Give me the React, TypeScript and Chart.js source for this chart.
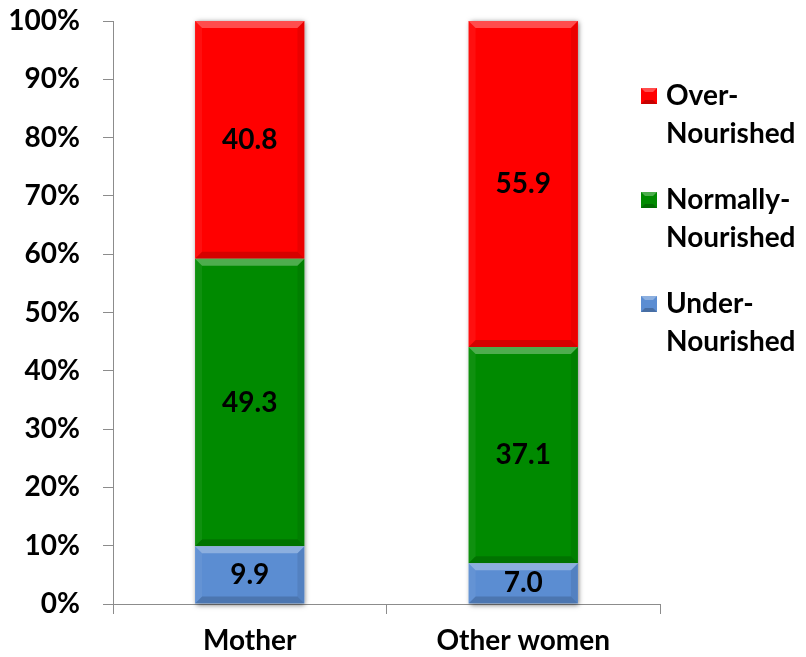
import React, { useEffect, useRef } from "react";
import { Chart, registerables } from "chart.js";

Chart.register(...registerables);

const categories = ["Mother", "Other women"];
const underNourished = [9.9, 7.0];
const normallyNourished = [49.3, 37.1];
const overNourished = [40.8, 55.9];
const seriesNames = ["Under-Nourished", "Normally-Nourished", "Over-Nourished"];
const legendLines = [
  ["Under-", "Nourished"],
  ["Normally-", "Nourished"],
  ["Over-", "Nourished"],
];
const seriesColors = ["#5B8DD2", "#008A00", "#FF0000"];
const yTicks = [0, 10, 20, 30, 40, 50, 60, 70, 80, 90, 100];

const FONT = "Lato";
const FONT_SIZE = 28;

// Soft drop shadow behind each full stacked column
const shadowPlugin = {
  id: "columnShadow",
  beforeDatasetsDraw(chart: any) {
    const ctx = chart.ctx;
    const n = chart.data.labels.length;
    for (let i = 0; i < n; i++) {
      let top = Infinity, bottom = -Infinity, left = 0, right = 0;
      chart.data.datasets.forEach((_: any, d: number) => {
        const el = chart.getDatasetMeta(d).data[i];
        if (!el) return;
        top = Math.min(top, el.y, el.base);
        bottom = Math.max(bottom, el.y, el.base);
        left = el.x - el.width / 2;
        right = el.x + el.width / 2;
      });
      ctx.save();
      ctx.shadowColor = "rgba(0,0,0,0.55)";
      ctx.shadowBlur = 5;
      ctx.shadowOffsetX = 1;
      ctx.shadowOffsetY = 1;
      ctx.fillStyle = "#ffffff";
      ctx.fillRect(left, top, right - left, bottom - top);
      ctx.restore();
    }
  },
};

// Bevelled edges on each bar segment, then the value in its centre
const bevelLabelPlugin = {
  id: "bevelLabels",
  afterDatasetsDraw(chart: any) {
    const ctx = chart.ctx;
    const b = 7;
    chart.data.datasets.forEach((ds: any, d: number) => {
      chart.getDatasetMeta(d).data.forEach((el: any, i: number) => {
        const l = el.x - el.width / 2;
        const r = el.x + el.width / 2;
        const t = Math.min(el.y, el.base);
        const bt = Math.max(el.y, el.base);
        ctx.save();
        // top highlight
        ctx.fillStyle = "rgba(255,255,255,0.3)";
        ctx.beginPath();
        ctx.moveTo(l, t); ctx.lineTo(r, t); ctx.lineTo(r - b, t + b); ctx.lineTo(l + b, t + b);
        ctx.closePath(); ctx.fill();
        // bottom shade
        ctx.fillStyle = "rgba(0,0,0,0.16)";
        ctx.beginPath();
        ctx.moveTo(l, bt); ctx.lineTo(r, bt); ctx.lineTo(r - b, bt - b); ctx.lineTo(l + b, bt - b);
        ctx.closePath(); ctx.fill();
        // left side
        ctx.fillStyle = "rgba(255,255,255,0.06)";
        ctx.beginPath();
        ctx.moveTo(l, t); ctx.lineTo(l + b, t + b); ctx.lineTo(l + b, bt - b); ctx.lineTo(l, bt);
        ctx.closePath(); ctx.fill();
        // right side
        ctx.fillStyle = "rgba(0,0,0,0.08)";
        ctx.beginPath();
        ctx.moveTo(r, t); ctx.lineTo(r - b, t + b); ctx.lineTo(r - b, bt - b); ctx.lineTo(r, bt);
        ctx.closePath(); ctx.fill();
        ctx.restore();

        const v = ds.data[i];
        ctx.save();
        ctx.fillStyle = "#000000";
        ctx.font = `bold ${FONT_SIZE}px ${FONT}`;
        ctx.textAlign = "center";
        ctx.textBaseline = "middle";
        ctx.fillText(Number(v).toFixed(1), el.x, (t + bt) / 2);
        ctx.restore();
      });
    });
  },
};

// Legend at the right, top entry is the top series of the stack
const sideLegendPlugin = {
  id: "sideLegend",
  afterDraw(chart: any) {
    const ctx = chart.ctx;
    const x0 = chart.chartArea.right - 19;
    const startY = 96;
    const itemGap = 104;
    const lineGap = 38;
    const order = [2, 1, 0];
    order.forEach((s, k) => {
      const cy = startY + k * itemGap;
      const sz = 16;
      const sx = x0;
      const sy = cy - sz / 2;
      ctx.save();
      ctx.fillStyle = seriesColors[s];
      ctx.fillRect(sx, sy, sz, sz);
      const b = 4;
      ctx.fillStyle = "rgba(255,255,255,0.3)";
      ctx.beginPath();
      ctx.moveTo(sx, sy); ctx.lineTo(sx + sz, sy); ctx.lineTo(sx + sz - b, sy + b); ctx.lineTo(sx + b, sy + b);
      ctx.closePath(); ctx.fill();
      ctx.fillStyle = "rgba(0,0,0,0.22)";
      ctx.beginPath();
      ctx.moveTo(sx, sy + sz); ctx.lineTo(sx + sz, sy + sz); ctx.lineTo(sx + sz - b, sy + sz - b); ctx.lineTo(sx + b, sy + sz - b);
      ctx.closePath(); ctx.fill();
      ctx.fillStyle = "#000000";
      ctx.font = `bold ${FONT_SIZE}px ${FONT}`;
      ctx.textAlign = "left";
      ctx.textBaseline = "middle";
      legendLines[s].forEach((line, j) => {
        ctx.fillText(line, sx + sz + 9, cy + j * lineGap);
      });
      ctx.restore();
    });
  },
};

export default function App() {
  const ref = useRef<HTMLCanvasElement>(null);

  useEffect(() => {
    document.body.style.margin = "0";
    const canvas = ref.current;
    if (!canvas) return;
    const values = [underNourished, normallyNourished, overNourished];
    const chart = new Chart(canvas, {
      type: "bar",
      data: {
        labels: categories,
        datasets: values.map((data, i) => ({
          label: seriesNames[i],
          data,
          backgroundColor: seriesColors[i],
          borderWidth: 0,
          categoryPercentage: 1,
          barPercentage: 0.4,
        })),
      },
      options: {
        responsive: false,
        animation: false,
        layout: { padding: { top: 21, right: 146, left: 0, bottom: 0 } },
        plugins: {
          legend: { display: false },
          tooltip: { enabled: false },
        },
        scales: {
          x: {
            stacked: true,
            grid: {
              display: true,
              offset: true,
              drawOnChartArea: false,
              drawTicks: true,
              tickLength: 10,
              tickColor: "#8c8c8c",
              lineWidth: 1,
            },
            border: { display: true, color: "#8c8c8c", width: 1 },
            ticks: {
              color: "#000000",
              padding: 10,
              font: { family: FONT, size: FONT_SIZE, weight: "bold" },
            },
            afterFit: (s: any) => {
              s.height = 53;
              s.paddingLeft = 0;
              s.paddingRight = 0;
            },
          },
          y: {
            stacked: true,
            min: 0,
            max: 100,
            afterBuildTicks: (s: any) => { s.ticks = yTicks.map((v) => ({ value: v })); },
            grid: {
              display: true,
              drawOnChartArea: false,
              drawTicks: true,
              tickLength: 10,
              tickColor: "#8c8c8c",
            },
            border: { display: true, color: "#8c8c8c", width: 1 },
            ticks: {
              color: "#000000",
              padding: 23,
              callback: (v: any) => `${v}%`,
              font: { family: FONT, size: FONT_SIZE, weight: "bold" },
            },
            afterFit: (s: any) => {
              s.width = 113;
              s.paddingTop = 0;
              s.paddingBottom = 0;
            },
          },
        },
      },
      plugins: [shadowPlugin, bevelLabelPlugin, sideLegendPlugin],
    });
    return () => chart.destroy();
  }, []);

  return <canvas ref={ref} width={806} height={657} style={{ display: "block" }} />;
}
